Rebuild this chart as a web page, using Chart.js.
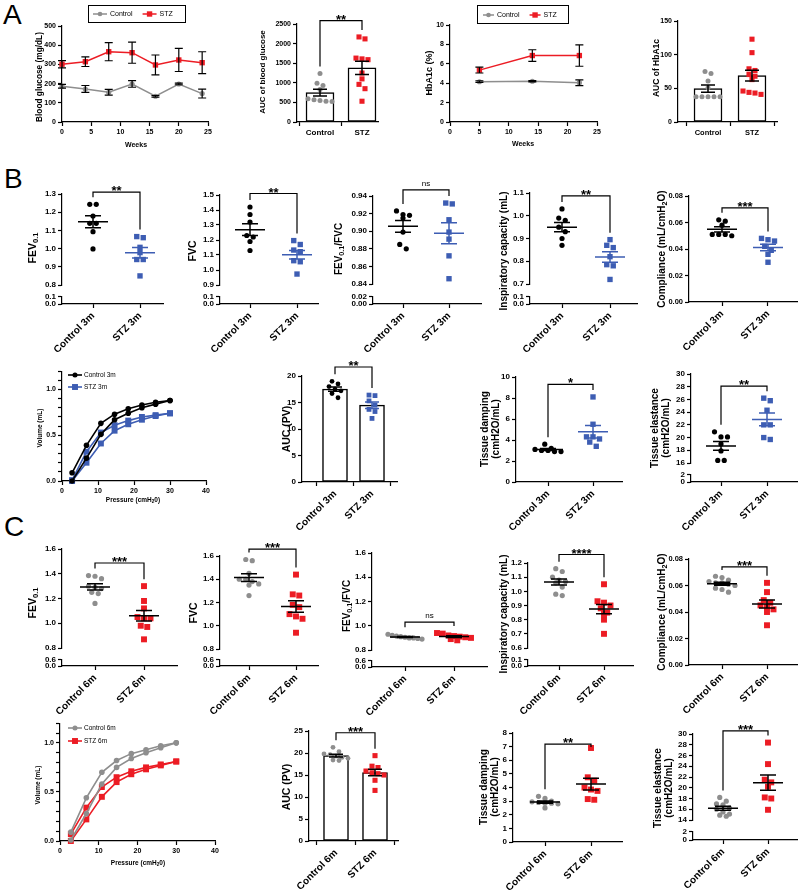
<!DOCTYPE html>
<html>
<head>
<meta charset="utf-8">
<title>STZ lung function</title>
<script src="https://cdn.jsdelivr.net/npm/chart.js@4.4.1/dist/chart.umd.min.js"></script>
<style>
html,body{margin:0;padding:0;background:#fff}
body{position:relative;width:800px;height:891px;overflow:hidden;font-family:"Liberation Sans",Arial,sans-serif}
canvas{position:absolute}
.tag{position:absolute;font-size:28px;line-height:28px;color:#000}
</style>
</head>
<body>
<div class="tag" style="left:3px;top:1px">A</div>
<div class="tag" style="left:4px;top:165px">B</div>
<div class="tag" style="left:4px;top:513px">C</div>
<script>
// ---- A: blood glucose and HbA1c
const bgWeeks = [0, 4, 8, 12, 16, 20, 24]
const bgControl = [186, 172, 155, 198, 134, 198, 148]
const bgControlSem = [10, 18, 15, 17, 4, 4, 23]
const bgStz = [301, 314, 366, 361, 297, 323, 309]
const bgStzSem = [19, 25, 47, 55, 52, 60, 57]
const bgAucControl = [1240, 990, 930, 830, 590, 570, 550, 530, 520]
const bgAucStz = [2170, 2120, 1630, 1610, 1590, 1250, 1100, 960, 850, 530]
const hbWeeks = [5, 14, 22]
const hbControl = [4.15, 4.2, 4.05]
const hbControlSem = [0.08, 0.06, 0.3]
const hbStz = [5.35, 6.85, 6.85]
const hbStzSem = [0.3, 0.6, 1.1]
const hbAucControl = [75, 72, 61, 51, 37.5, 37.5, 37.5, 37.5, 37.5]
const hbAucStz = [123, 103, 79, 76.5, 70.5, 68, 63, 46, 44, 43, 41]

// ---- B: 3 months
const groups3m = ['Control 3m', 'STZ 3m']
const fev3mControl = [1.243, 1.243, 1.179, 1.139, 1.139, 1.093, 0.998]
const fev3mStz = [1.066, 1.06, 1.007, 0.978, 0.94, 0.94, 0.85]
const fvc3mControl = [1.42, 1.37, 1.32, 1.23, 1.22, 1.19, 1.13]
const fvc3mStz = [1.196, 1.17, 1.133, 1.122, 1.062, 1.055, 0.973]
const ratio3mControl = [0.923, 0.919, 0.918, 0.915, 0.899, 0.885, 0.880]
const ratio3mStz = [0.932, 0.931, 0.913, 0.899, 0.891, 0.872, 0.846]
const ic3mControl = [1.03, 0.99, 0.98, 0.95, 0.93, 0.90, 0.87]
const ic3mStz = [0.895, 0.87, 0.86, 0.82, 0.785, 0.78, 0.72]
const comp3mControl = [0.062, 0.061, 0.058, 0.051, 0.051, 0.050, 0.051]
const comp3mStz = [0.048, 0.047, 0.046, 0.042, 0.039, 0.036, 0.030]
const pvAuc3mControl = [19.0, 18.5, 18.0, 17.5, 17.2, 16.7, 15.9]
const pvAuc3mStz = [16.4, 16.3, 15.3, 14.5, 13.7, 13.3, 12.0]
const damp3mControl = [3.6, 3.2, 3.1, 3.0, 3.0, 2.9, 2.9]
const damp3mStz = [8.1, 5.5, 4.3, 4.3, 4.1, 3.8, 3.4]
const elast3mControl = [20.9, 20.1, 20.1, 19.0, 17.9, 16.4, 16.4]
const elast3mStz = [26.2, 25.8, 24.3, 22.0, 22.0, 20.0, 19.7]

// pressure-volume loops (deflation limb, inflation limb)
const pressure = [2.8, 6.8, 10.8, 14.6, 18.4, 22.2, 26, 30]
const pv3mControlDefl = [0.09, 0.39, 0.63, 0.73, 0.79, 0.83, 0.86, 0.88]
const pv3mControlInfl = [0.0, 0.25, 0.51, 0.67, 0.74, 0.80, 0.84, 0.88]
const pv3mStzDefl = [0.01, 0.32, 0.53, 0.61, 0.66, 0.70, 0.72, 0.74]
const pv3mStzInfl = [0.0, 0.20, 0.41, 0.55, 0.62, 0.67, 0.71, 0.74]

// ---- C: 6 months
const groups6m = ['Control 6m', 'STZ 6m']
const fev6mControl = [1.385, 1.38, 1.36, 1.30, 1.29, 1.28, 1.25, 1.24, 1.16]
const fev6mStz = [1.30, 1.18, 1.12, 1.05, 1.04, 1.04, 0.98, 0.97, 0.87]
const fvc6mControl = [1.57, 1.56, 1.45, 1.40, 1.40, 1.38, 1.36, 1.35, 1.26]
const fvc6mStz = [1.44, 1.27, 1.26, 1.18, 1.16, 1.10, 1.08, 1.06, 0.94]
const ratio6mControl = [0.93, 0.92, 0.915, 0.91, 0.905, 0.90, 0.90, 0.895, 0.89]
const ratio6mStz = [0.94, 0.935, 0.92, 0.915, 0.91, 0.905, 0.90, 0.89, 0.88]
const ic6mControl = [1.16, 1.14, 1.10, 1.08, 1.07, 1.06, 1.03, 0.98, 0.97]
const ic6mStz = [1.05, 0.93, 0.92, 0.90, 0.88, 0.85, 0.84, 0.80, 0.70]
const comp6mControl = [0.067, 0.066, 0.064, 0.063, 0.062, 0.062, 0.061, 0.060, 0.058, 0.057, 0.055]
const comp6mStz = [0.062, 0.055, 0.049, 0.047, 0.045, 0.044, 0.042, 0.040, 0.030]
const pvAuc6mControl = [21.3, 20.3, 19.8, 19.6, 19.3, 19.0, 18.8, 18.4, 18.3]
const pvAuc6mStz = [19.4, 17.0, 16.7, 15.9, 15.5, 15.3, 15.0, 13.8, 11.5]
const damp6mControl = [3.35, 3.2, 3.0, 2.95, 2.9, 2.85, 2.85, 2.8, 2.5]
const damp6mStz = [6.9, 4.75, 4.5, 4.0, 3.85, 3.75, 3.15, 3.1]
const elast6mControl = [18.2, 17.5, 17.0, 16.8, 16.2, 16.0, 15.5, 15.1, 14.9, 14.7]
const elast6mStz = [28.4, 24.4, 21.5, 21.0, 20.2, 18.2, 18.0, 15.9]
const pv6mControlDefl = [0.09, 0.44, 0.70, 0.82, 0.89, 0.93, 0.97, 1.0]
const pv6mControlInfl = [0.01, 0.28, 0.58, 0.75, 0.84, 0.90, 0.95, 1.0]
const pv6mStzDefl = [0.07, 0.34, 0.55, 0.65, 0.71, 0.75, 0.78, 0.81]
const pv6mStzInfl = [0.0, 0.22, 0.45, 0.60, 0.68, 0.73, 0.77, 0.81]

const FONT = '"Liberation Sans", Arial, Helvetica, sans-serif'
const GREY = '#8e8e8e', RED = '#ec1c24', BLUE = '#3d5db3', BLACK = '#000000'
Chart.defaults.font.family = FONT
Chart.defaults.color = '#000'

const mean = a => a.reduce((s, v) => s + v, 0) / a.length
const sem = a => {
  const m = mean(a)
  return Math.sqrt(a.reduce((s, v) => s + (v - m) * (v - m), 0) / (a.length - 1) / a.length)
}

function tickSet(min, max, step, dec, every){
  const ticks = [], labels = []
  const n = Math.round((max - min) / step)
  for (let k = 0; k <= n; k++) {
    const v = +(min + k * step).toFixed(6)
    ticks.push(v)
    labels.push(!every || k % every === 0 ? v.toFixed(dec) : '')
  }
  return {ticks, labels}
}

// rows of dots centred on the group, like a column scatter
function swarm(vals, g, pyu, u, d, maxW){
  const idx = vals.map((_, i) => i).sort((a, b) => vals[b] - vals[a])
  const rows = []
  idx.forEach(i => {
    const row = rows[rows.length - 1]
    if (row && (vals[row[0]] - vals[i]) * pyu < d * 0.8) row.push(i)
    else rows.push([i])
  })
  const pts = []
  rows.forEach(row => {
    const n = row.length
    const sp = n > 1 ? Math.min(d, maxW / (n - 1)) : 0
    row.forEach((i, k) => pts.push({x: g + (k - (n - 1) / 2) * sp / u, y: vals[i]}))
  })
  return pts
}

function meanSem(vals, g, mw, cw){
  const m = mean(vals), s = sem(vals)
  const pts = []
  if (mw) pts.push({x: g - mw, y: m}, {x: g + mw, y: m}, {x: g, y: null})
  pts.push({x: g - cw, y: m + s}, {x: g + cw, y: m + s}, {x: g, y: null},
           {x: g, y: m + s}, {x: g, y: m - s}, {x: g, y: null},
           {x: g - cw, y: m - s}, {x: g + cw, y: m - s})
  return pts
}

// text with _{sub} parts, centred on x, middle on y
function rich(ctx, s, x, y, size, weight){
  const segs = []
  s.split(/(_\{[^}]*\})/).forEach(part => {
    if (!part) return
    if (part.startsWith('_{')) segs.push([part.slice(2, -1), 1])
    else segs.push([part, 0])
  })
  const font = sub => `${weight} ${sub ? size * 0.72 : size}px ${FONT}`
  let w = 0
  segs.forEach(([t, sub]) => { ctx.font = font(sub); w += ctx.measureText(t).width })
  let cx = x - w / 2
  segs.forEach(([t, sub]) => {
    ctx.font = font(sub)
    ctx.fillText(t, cx, y + (sub ? size * 0.3 : 0))
    cx += ctx.measureText(t).width
  })
}

const decoOf = new Map()
const deco = {
  id: 'deco',
  afterDatasetsDraw(chart){
    const ctx = chart.ctx, ys = chart.scales.y
    chart.data.datasets.forEach((ds, i) => {
      if (!ds.errors) return
      const meta = chart.getDatasetMeta(i)
      ctx.save()
      ctx.strokeStyle = '#000'
      ctx.lineWidth = 1.2
      meta.data.forEach((el, j) => {
        const v = ds.data[j].y, e = ds.errors[j]
        const a = ys.getPixelForValue(v + e), b = ys.getPixelForValue(v - e), x = el.x
        ctx.beginPath()
        ctx.moveTo(x, a); ctx.lineTo(x, b)
        ctx.moveTo(x - 4, a); ctx.lineTo(x + 4, a)
        ctx.moveTo(x - 4, b); ctx.lineTo(x + 4, b)
        ctx.stroke()
      })
      ctx.restore()
    })
  },
  afterDraw(chart){
    const d = decoOf.get(chart.canvas)
    if (!d) return
    const ctx = chart.ctx
    ctx.save()
    ctx.fillStyle = '#000'
    ctx.textAlign = 'left'
    ctx.textBaseline = 'middle'
    if (d.yTitle) {
      const t = d.yTitle
      ctx.save()
      ctx.translate(t.x - d.L, t.y - d.T)
      ctx.rotate(-Math.PI / 2)
      t.lines.forEach((s, i) => rich(ctx, s, 0, (i - (t.lines.length - 1) / 2) * (t.lh || 0), t.size, 'bold'))
      ctx.restore()
    }
    if (d.xTitle) rich(ctx, d.xTitle.text, d.xTitle.x - d.L, d.xTitle.y - d.T, d.xTitle.size, 'bold')
    if (d.sig) {
      const xs = chart.scales.x, ys = chart.scales.y, s = d.sig
      const yb = ys.getPixelForValue(s.level)
      const xa = xs.getPixelForValue(0), xb = xs.getPixelForValue(1)
      const la = Math.max(yb + 3, ys.getPixelForValue(s.tops[0]) - 7)
      const lb = Math.max(yb + 3, ys.getPixelForValue(s.tops[1]) - 7)
      ctx.strokeStyle = '#000'
      ctx.lineWidth = 1.2
      ctx.beginPath()
      ctx.moveTo(xa, la); ctx.lineTo(xa, yb); ctx.lineTo(xb, yb); ctx.lineTo(xb, lb)
      ctx.stroke()
      ctx.textAlign = 'center'
      ctx.textBaseline = 'alphabetic'
      if (s.text === 'ns') { ctx.font = `8px ${FONT}`; ctx.fillText('ns', (xa + xb) / 2, yb - 4) }
      else { ctx.font = `bold 13px ${FONT}`; ctx.fillText(s.text, (xa + xb) / 2, yb + 3) }
    }
    if (d.legend) {
      const g = d.legend
      ctx.font = `${g.size}px ${FONT}`
      ctx.textAlign = 'left'
      ctx.textBaseline = 'middle'
      let x = g.x - d.L, y = g.y - d.T
      chart.data.datasets.filter(ds => ds.legendLabel).forEach(ds => {
        ctx.strokeStyle = ds.borderColor
        ctx.lineWidth = ds.borderWidth
        ctx.beginPath(); ctx.moveTo(x, y); ctx.lineTo(x + g.line, y); ctx.stroke()
        ctx.fillStyle = ds.backgroundColor
        const r = g.r || ds.pointRadius, mx = x + g.line / 2
        if (ds.pointStyle === 'rect') { const h = r * Math.SQRT1_2; ctx.fillRect(mx - h, y - h, 2 * h, 2 * h) }
        else { ctx.beginPath(); ctx.arc(mx, y, r * 0.9, 0, 2 * Math.PI); ctx.fill() }
        ctx.fillStyle = '#000'
        ctx.fillText(ds.legendLabel, x + g.line + g.tgap, y)
        if (g.horizontal) x += g.line + g.tgap + ctx.measureText(ds.legendLabel).width + g.gap
        else y += g.gap
      })
      if (g.box) {
        const b = g.box
        ctx.strokeStyle = '#000'
        ctx.lineWidth = 1
        ctx.strokeRect(b[0] - d.L + 0.5, b[1] - d.T + 0.5, b[2] - b[0], b[3] - b[1])
      }
    }
    ctx.restore()
  }
}

function scaleCfg(a, horizontal, p){
  return {
    type: 'linear', display: !a.hidden, min: a.min, max: a.max, bounds: 'data', offset: false,
    afterBuildTicks: s => { s.ticks = a.ticks.map(v => ({value: v})) },
    afterFit: s => { if (horizontal) s.height = p.xh; else s.width = p.yw },
    ticks: {
      autoSkip: false, color: '#000', padding: a.pad ?? 2,
      maxRotation: a.rot || 0, minRotation: a.rot || 0,
      font: {family: FONT, size: a.size, weight: 'bold'},
      callback: (v, i) => a.labels[i]
    },
    grid: {drawOnChartArea: false, drawTicks: true, tickLength: 4, tickColor: '#000', tickWidth: 1.2},
    border: {display: true, color: '#000', width: 1.2}
  }
}

// p.l/t/r/b = plot area in page pixels
function build(p){
  const L = p.l - p.yw, T = p.t - p.pt
  const W = p.r - p.l + p.yw + p.pr
  const H = p.b - p.t + p.pt + p.xh + (p.pb || 0)
  const cv = document.createElement('canvas')
  cv.width = W
  cv.height = H
  cv.style.cssText = `left:${L}px;top:${T}px;width:${W}px;height:${H}px`
  document.body.appendChild(cv)
  decoOf.set(cv, Object.assign({L, T}, p.deco || {}))
  return new Chart(cv, {
    type: 'scatter',
    data: {datasets: p.datasets},
    options: {
      responsive: false, animation: false, events: [],
      layout: {autoPadding: false, padding: {left: 0, top: p.pt, right: p.pr, bottom: p.pb || 0}},
      plugins: {legend: {display: false}, tooltip: {enabled: false}},
      scales: {x: scaleCfg(p.x, true, p), y: scaleCfg(p.y, false, p)}
    },
    plugins: [deco]
  })
}

function lineChart(p){
  const datasets = p.series.map(s => ({
    type: 'line', label: s.label, legendLabel: s.label,
    data: s.x.map((x, i) => ({x, y: s.y[i]})), errors: s.err,
    borderColor: s.color, backgroundColor: s.color, pointBackgroundColor: s.color,
    borderWidth: 1.5, pointStyle: s.style, pointRadius: s.r, pointBorderWidth: 0, tension: 0, clip: false
  }))
  build({...p, datasets})
}

function dotPanel(p){
  const u = p.c1 - p.c0
  const xmin = -(p.c0 - p.ax) / u, xmax = 1 + (p.xr - p.c1) / u
  const pyu = (p.bot - p.top) / (p.ymax - p.ymin)
  const sets = [p.ctrl, p.stz]
  const ds = []
  if (p.bar) ds.push({type: 'bar', data: sets.map((v, g) => ({x: g, y: mean(v)})),
    backgroundColor: '#fff', borderColor: '#000', borderWidth: 1.5, barThickness: p.bar, borderSkipped: false, order: 3})
  sets.forEach((v, g) => {
    ds.push({type: 'scatter', data: swarm(v, g, pyu, u, p.bar ? 6 : 6.5, p.bar ? 26 : 34),
      pointStyle: p.shapes[g], pointRadius: p.radii[g], pointBackgroundColor: p.colors[g],
      backgroundColor: p.colors[g], pointBorderWidth: 0, borderWidth: 0, order: 2, clip: false})
    ds.push({type: 'line', data: meanSem(v, g, p.bar ? 0 : 15 / u, (p.bar ? 7 : 8) / u),
      borderColor: p.semColors[g], borderWidth: 1.5, pointRadius: 0, spanGaps: false, order: 1, clip: false})
  })
  const xa = {min: xmin, max: xmax, ticks: [0, 1], labels: p.groups, size: p.lsize || 10, rot: p.rot ?? 45}
  const ya = {min: p.ymin, max: p.ymax, ...tickSet(p.ymin, p.ymax, p.step, p.dec), size: p.tsize || 8}
  const dec = {yTitle: p.title, sig: p.sig && {text: p.sig[0], level: p.sig[1], tops: sets.map(v => Math.max(...v))}}
  const base = {l: p.ax, r: p.xr, yw: p.yw, pr: 4}
  if (!p.low) {
    build({...base, t: p.top, b: p.bot, pt: p.pt || 30, xh: p.xh || 60, datasets: ds, x: xa, y: ya, deco: dec})
  } else {
    build({...base, t: p.top, b: p.bot, pt: p.pt || 30, xh: 0, pb: 40, datasets: ds, x: {...xa, hidden: true}, y: ya, deco: dec})
    const lt = tickSet(0, p.low.max, p.low.max, p.low.dec)
    build({...base, t: p.low.top, b: p.low.bot, pt: 4, xh: p.xh || 60, datasets: [], x: xa,
      y: {min: 0, max: p.low.max, ...lt, size: p.tsize || 8}})
  }
}

function pvChart(p){
  const line = (vals, color, style, r, label) => ({
    type: 'line', data: pressure.map((x, i) => ({x, y: vals[i]})),
    borderColor: color, backgroundColor: color, pointBackgroundColor: color,
    borderWidth: 1.6, pointStyle: style, pointRadius: r, pointBorderWidth: 0, tension: 0, clip: false, legendLabel: label
  })
  const datasets = [
    line(p.ctrl[0], p.colors[0], 'circle', 2.8, p.labels[0]),
    line(p.ctrl[1], p.colors[0], 'circle', 2.8),
    line(p.stz[0], p.colors[1], 'rect', 4.2, p.labels[1]),
    line(p.stz[1], p.colors[1], 'rect', 4.2)
  ]
  build({l: p.l, t: p.t, r: p.r, b: p.b, yw: p.yw, pt: 5, pr: 10, xh: p.xh, datasets,
    x: {min: 0, max: 40, ...tickSet(0, 40, 10, 0), size: 7},
    y: {min: 0, max: 1.2, ...tickSet(0, 1.2, 0.1, 1, 5), size: 7},
    deco: {yTitle: p.title, xTitle: p.xTitle, legend: p.legend}})
}

// ---------- row A
lineChart({l: 62, t: 26, r: 208, b: 122, yw: 34, pt: 26, pr: 10, xh: 30,
  x: {min: 0, max: 25, ...tickSet(0, 25, 5, 0), size: 7},
  y: {min: 0, max: 500, ...tickSet(0, 500, 100, 0), size: 7},
  series: [
    {label: 'Control', x: bgWeeks, y: bgControl, err: bgControlSem, color: GREY, style: 'circle', r: 2.6},
    {label: 'STZ', x: bgWeeks, y: bgStz, err: bgStzSem, color: RED, style: 'rect', r: 3.8}],
  deco: {yTitle: {lines: ['Blood glucose (mg/dL)'], x: 40, y: 77, size: 8.3},
    xTitle: {text: 'Weeks', x: 136, y: 145, size: 7},
    legend: {x: 93, y: 14, line: 14, tgap: 3, gap: 10, size: 7, horizontal: true, box: [88, 5, 185, 22]}}})

dotPanel({ax: 297, xr: 378, c0: 320, c1: 362, top: 24, bot: 122, ymin: 0, ymax: 2500, step: 500, dec: 0, tsize: 7,
  ctrl: bgAucControl, stz: bgAucStz, groups: ['Control', 'STZ'], rot: 0, lsize: 8, xh: 22, bar: 28,
  colors: [GREY, RED], shapes: ['circle', 'rect'], radii: [2.5, 3.6], semColors: [BLACK, BLACK],
  title: {lines: ['AUC of blood glucose'], x: 263, y: 72, size: 8}, sig: ['**', 2584], yw: 42, pt: 24})

lineChart({l: 450, t: 25, r: 597, b: 122, yw: 30, pt: 25, pr: 10, xh: 30,
  x: {min: 0, max: 25, ...tickSet(0, 25, 5, 0), size: 7},
  y: {min: 0, max: 10, ...tickSet(0, 10, 2, 0), size: 7},
  series: [
    {label: 'Control', x: hbWeeks, y: hbControl, err: hbControlSem, color: GREY, style: 'circle', r: 2.6},
    {label: 'STZ', x: hbWeeks, y: hbStz, err: hbStzSem, color: RED, style: 'rect', r: 3.8}],
  deco: {yTitle: {lines: ['HbA1c (%)'], x: 430, y: 73, size: 9},
    xTitle: {text: 'Weeks', x: 523, y: 144, size: 7},
    legend: {x: 483, y: 15, line: 11, tgap: 3, gap: 10, size: 7, horizontal: true, box: [477, 5, 568, 23]}}})

dotPanel({ax: 678, xr: 777, c0: 708, c1: 752, top: 21, bot: 122, ymin: 0, ymax: 150, step: 50, dec: 0, tsize: 7,
  ctrl: hbAucControl, stz: hbAucStz, groups: ['Control', 'STZ'], rot: 0, lsize: 7.5, xh: 22, bar: 28,
  colors: [GREY, RED], shapes: ['circle', 'rect'], radii: [2.5, 3.6], semColors: [BLACK, BLACK],
  title: {lines: ['AUC of HbA1c'], x: 657, y: 68, size: 8.5}, yw: 33, pt: 21})

// ---------- row B
const B = {groups: groups3m, colors: [BLACK, BLUE], shapes: ['circle', 'rect'], radii: [2.6, 3.8], semColors: [BLACK, BLUE]}
dotPanel({...B, ax: 62, xr: 163, c0: 93, c1: 140, top: 194, bot: 285, ymin: 0.8, ymax: 1.3, step: 0.1, dec: 1,
  low: {top: 294, bot: 304, max: 0.1, dec: 1}, ctrl: fev3mControl, stz: fev3mStz,
  title: {lines: ['FEV_{0.1}'], x: 33, y: 248, size: 10.5}, sig: ['**', 1.31], yw: 44})
dotPanel({...B, ax: 220, xr: 318, c0: 250, c1: 297, top: 195, bot: 285, ymin: 0.9, ymax: 1.5, step: 0.1, dec: 1,
  low: {top: 294, bot: 304, max: 0.1, dec: 1}, ctrl: fvc3mControl, stz: fvc3mStz,
  title: {lines: ['FVC'], x: 193, y: 251, size: 10.5}, sig: ['**', 1.51], yw: 42})
dotPanel({...B, ax: 373, xr: 481, c0: 403, c1: 449, top: 196, bot: 284, ymin: 0.84, ymax: 0.94, step: 0.02, dec: 2,
  low: {top: 294, bot: 304, max: 0.02, dec: 2}, ctrl: ratio3mControl, stz: ratio3mStz,
  title: {lines: ['FEV_{0.1}/FVC'], x: 339, y: 249, size: 10}, sig: ['ns', 0.947], yw: 48})
dotPanel({...B, ax: 530, xr: 637, c0: 562, c1: 610, top: 193, bot: 284, ymin: 0.7, ymax: 1.1, step: 0.1, dec: 1,
  low: {top: 294, bot: 304, max: 0.1, dec: 1}, ctrl: ic3mControl, stz: ic3mStz,
  title: {lines: ['Inspiratory capacity (mL)'], x: 504, y: 251, size: 10}, sig: ['**', 1.087], yw: 40})
dotPanel({...B, ax: 689, xr: 797, c0: 722, c1: 768, top: 196, bot: 302, ymin: 0, ymax: 0.08, step: 0.02, dec: 2,
  ctrl: comp3mControl, stz: comp3mStz, tsize: 7.5,
  title: {lines: ['Compliance (mL/cmH_{2}O)'], x: 662, y: 249, size: 10}, sig: ['***', 0.071], yw: 40})

pvChart({l: 62, t: 370, r: 206, b: 481, yw: 37, xh: 26,
  ctrl: [pv3mControlDefl, pv3mControlInfl], stz: [pv3mStzDefl, pv3mStzInfl], colors: [BLACK, BLUE], labels: groups3m,
  title: {lines: ['Volume (mL)'], x: 40, y: 428, size: 6.5},
  xTitle: {text: 'Pressure (cmH_{2}0)', x: 133, y: 500, size: 6.5},
  legend: {x: 68, y: 375, line: 14, tgap: 2, gap: 12, size: 6.5}})
dotPanel({...B, radii: [2.4, 3.4], ax: 302, xr: 397, c0: 335, c1: 372, top: 376, bot: 482, ymin: 0, ymax: 20, step: 5, dec: 0,
  bar: 25, ctrl: pvAuc3mControl, stz: pvAuc3mStz,
  title: {lines: ['AUC (PV)'], x: 287, y: 429, size: 10.5}, sig: ['**', 21.7], yw: 30})
dotPanel({...B, ax: 516, xr: 622, c0: 548, c1: 593, top: 377, bot: 482, ymin: 0, ymax: 10, step: 2, dec: 0,
  ctrl: damp3mControl, stz: damp3mStz,
  title: {lines: ['Tissue damping', '(cmH2O/mL)'], x: 491, y: 429, size: 10, lh: 11}, sig: ['*', 9.3], yw: 44})
dotPanel({...B, ax: 691, xr: 797, c0: 721, c1: 767, top: 374, bot: 463, ymin: 16, ymax: 30, step: 2, dec: 0,
  low: {top: 472, bot: 482, max: 2, dec: 0}, ctrl: elast3mControl, stz: elast3mStz,
  title: {lines: ['Tissue elastance', '(cmH2O/mL)'], x: 661, y: 428, size: 10, lh: 11}, sig: ['**', 28.1], yw: 48})

// ---------- row C
const C = {groups: groups6m, colors: [GREY, RED], shapes: ['circle', 'rect'], radii: [2.6, 4.2], semColors: [BLACK, BLACK]}
dotPanel({...C, ax: 62, xr: 177, c0: 95, c1: 144, top: 549, bot: 648, ymin: 0.8, ymax: 1.6, step: 0.2, dec: 1,
  low: {top: 657, bot: 666, max: 0.6, dec: 1}, ctrl: fev6mControl, stz: fev6mStz,
  title: {lines: ['FEV_{0.1}'], x: 33, y: 603, size: 10.5}, sig: ['***', 1.487], yw: 44})
dotPanel({...C, ax: 220, xr: 318, c0: 249, c1: 296, top: 556, bot: 649, ymin: 0.8, ymax: 1.6, step: 0.2, dec: 1,
  low: {top: 657, bot: 666, max: 0.6, dec: 1}, ctrl: fvc6mControl, stz: fvc6mStz,
  title: {lines: ['FVC'], x: 194, y: 613, size: 10.5}, sig: ['***', 1.66], yw: 42})
dotPanel({...C, ax: 372, xr: 487, c0: 405, c1: 454, top: 553, bot: 650, ymin: 0.8, ymax: 1.6, step: 0.2, dec: 1,
  low: {top: 658, bot: 667, max: 0.6, dec: 1}, ctrl: ratio6mControl, stz: ratio6mStz,
  title: {lines: ['FEV_{0.1}/FVC'], x: 347, y: 606, size: 10}, sig: ['ns', 1.03], yw: 44})
dotPanel({...C, ax: 528, xr: 633, c0: 559, c1: 604, top: 563, bot: 648, ymin: 0.6, ymax: 1.2, step: 0.1, dec: 1,
  low: {top: 657, bot: 666, max: 0.1, dec: 1}, ctrl: ic6mControl, stz: ic6mStz,
  title: {lines: ['Inspiratory capacity (mL)'], x: 504, y: 614, size: 10}, sig: ['****', 1.26], yw: 38})
dotPanel({...C, ax: 689, xr: 797, c0: 722, c1: 767, top: 559, bot: 665, ymin: 0, ymax: 0.08, step: 0.02, dec: 2,
  ctrl: comp6mControl, stz: comp6mStz, tsize: 7.5,
  title: {lines: ['Compliance (mL/cmH_{2}O)'], x: 662, y: 612, size: 10}, sig: ['***', 0.074], yw: 40})

pvChart({l: 60, t: 722, r: 215, b: 841, yw: 35, xh: 28,
  ctrl: [pv6mControlDefl, pv6mControlInfl], stz: [pv6mStzDefl, pv6mStzInfl], colors: [GREY, RED], labels: groups6m,
  title: {lines: ['Volume (mL)'], x: 38, y: 785, size: 6.5},
  xTitle: {text: 'Pressure (cmH_{2}0)', x: 138, y: 863, size: 6.5},
  legend: {x: 68, y: 728, line: 14, tgap: 2, gap: 13, size: 6.5}})
dotPanel({...C, radii: [2.4, 3.6], ax: 309, xr: 398, c0: 336, c1: 375, top: 731, bot: 841, ymin: 0, ymax: 25, step: 5, dec: 0,
  bar: 25, ctrl: pvAuc6mControl, stz: pvAuc6mStz, xh: 50,
  title: {lines: ['AUC (PV)'], x: 287, y: 787, size: 10.5}, sig: ['***', 24.6], yw: 36})
dotPanel({...C, ax: 513, xr: 622, c0: 545, c1: 591, top: 733, bot: 842, ymin: 0, ymax: 8, step: 1, dec: 0,
  ctrl: damp6mControl, stz: damp6mStz, xh: 49,
  title: {lines: ['Tissue damping', '(cmH2O/mL)'], x: 490, y: 787, size: 10, lh: 11}, sig: ['**', 7.19], yw: 44})
dotPanel({...C, ax: 693, xr: 797, c0: 723, c1: 768, top: 734, bot: 820, ymin: 14, ymax: 30, step: 2, dec: 0,
  low: {top: 829, bot: 840, max: 2, dec: 0}, ctrl: elast6mControl, stz: elast6mStz, xh: 51,
  title: {lines: ['Tissue elastance', '(cmH2O/mL)'], x: 664, y: 788, size: 10, lh: 11}, sig: ['***', 30.6], yw: 50})
</script>
</body>
</html>
